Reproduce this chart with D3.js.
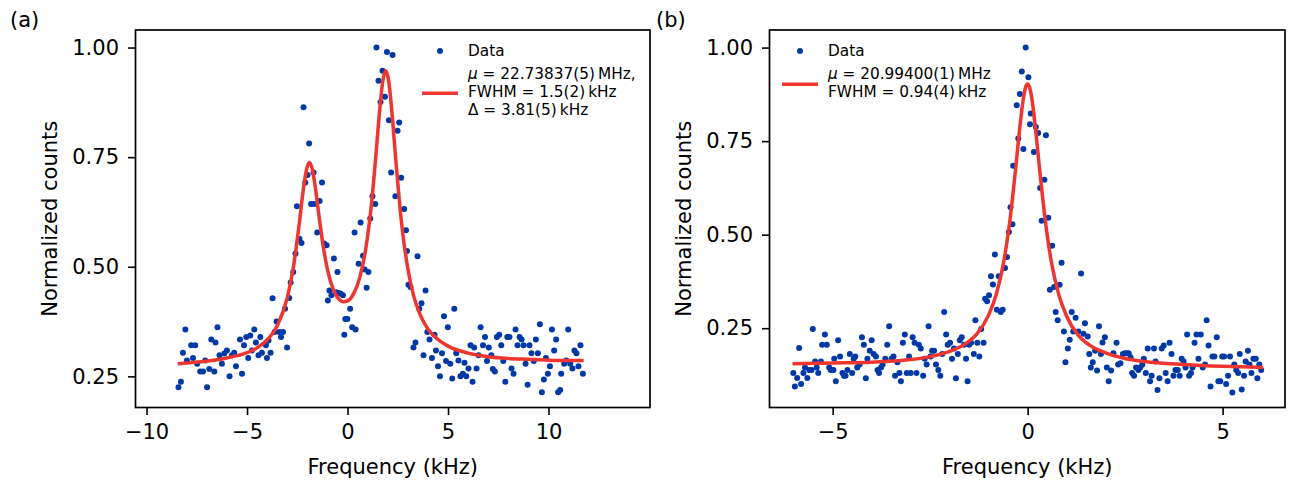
<!DOCTYPE html>
<html>
<head>
<meta charset="utf-8">
<script src="https://cdnjs.cloudflare.com/ajax/libs/d3/7.8.5/d3.min.js"></script>
<style>
  body { margin: 0; background: #fff; }
  svg { font-family: "DejaVu Sans", sans-serif; }
</style>
</head>
<body>
<script>
// ---- panel (a): double resonance ----
const aFreq = [-8.41,-8.29,-8.19,-8.07,-7.99,-7.78,-7.69,-7.58,-7.48,-7.33,-7.19,-7.08,-6.99,-6.88,-6.78,-6.63,-6.57,-6.47,-6.37,-6.25,-6.13,-6.00,-5.87,-5.75,-5.64,-5.55,-5.35,-5.25,-5.15,-5.04,-4.94,-4.84,-4.76,-4.64,-4.56,-4.43,-4.34,-4.26,-4.06,-4.01,-3.93,-3.83,-3.73,-3.63,-3.53,-3.40,-3.31,-3.21,-3.11,-3.01,-2.90,-2.83,-2.70,-2.59,-2.52,-2.39,-2.29,-2.19,-2.10,-1.99,-1.91,-1.81,-1.69,-1.66,-1.51,-1.39,-1.27,-1.16,-1.04,-0.98,-0.90,-0.80,-0.68,-0.56,-0.50,-0.45,-0.35,-0.23,-0.16,-0.11,-0.01,0.13,0.23,0.35,0.40,0.55,0.65,0.77,0.85,0.95,1.04,1.13,1.24,1.38,1.44,1.54,1.64,1.74,1.86,1.96,2.06,2.17,2.24,2.38,2.49,2.57,2.67,2.82,2.91,2.96,3.03,3.13,3.28,3.38,3.48,3.57,3.68,3.78,3.88,3.97,4.08,4.20,4.33,4.40,4.50,4.60,4.70,4.80,4.90,4.99,5.11,5.21,5.31,5.41,5.52,5.62,5.74,5.82,5.91,6.02,6.12,6.22,6.30,6.42,6.52,6.62,6.74,6.84,6.94,7.03,7.15,7.23,7.33,7.43,7.55,7.65,7.75,7.85,7.95,8.06,8.16,8.26,8.36,8.46,8.56,8.66,8.76,8.86,8.96,9.05,9.15,9.27,9.37,9.47,9.57,9.67,9.77,9.87,9.97,10.07,10.17,10.28,10.38,10.48,10.58,10.63,10.78,10.88,10.98,11.08,11.19,11.29,11.39,11.49,11.59,11.71];
const aCounts = [0.225,0.238,0.304,0.357,0.286,0.321,0.292,0.321,0.279,0.261,0.261,0.286,0.225,0.267,0.334,0.261,0.327,0.362,0.298,0.279,0.302,0.309,0.250,0.298,0.304,0.273,0.334,0.256,0.321,0.340,0.292,0.343,0.309,0.357,0.327,0.298,0.340,0.304,0.321,0.292,0.332,0.304,0.428,0.351,0.375,0.351,0.340,0.351,0.404,0.316,0.429,0.464,0.488,0.530,0.638,0.564,0.554,0.864,0.692,0.709,0.781,0.643,0.715,0.643,0.578,0.650,0.692,0.553,0.549,0.423,0.446,0.435,0.519,0.442,0.488,0.440,0.439,0.435,0.345,0.381,0.381,0.404,0.362,0.578,0.357,0.507,0.601,0.525,0.494,0.452,0.488,0.610,0.661,0.643,1.000,0.924,0.876,0.947,0.888,0.990,0.834,0.715,0.983,0.661,0.810,0.829,0.703,0.632,0.583,0.536,0.459,0.454,0.316,0.327,0.524,0.404,0.417,0.298,0.446,0.351,0.334,0.292,0.345,0.309,0.273,0.250,0.303,0.387,0.285,0.362,0.279,0.245,0.404,0.303,0.286,0.250,0.256,0.281,0.250,0.268,0.321,0.238,0.316,0.268,0.298,0.362,0.321,0.340,0.285,0.316,0.298,0.267,0.261,0.340,0.345,0.321,0.285,0.238,0.340,0.340,0.268,0.256,0.357,0.321,0.340,0.334,0.321,0.279,0.231,0.321,0.303,0.285,0.334,0.303,0.369,0.214,0.243,0.292,0.256,0.273,0.357,0.309,0.334,0.214,0.219,0.256,0.279,0.286,0.357,0.279,0.268,0.309,0.303,0.273,0.321,0.256];
const aFitFreq = [-8.45,-7,-6,-5,-4.5,-4,-3.5,-3,-2.7,-2.4,-2.2,-2.05,-1.9,-1.75,-1.6,-1.4,-1.2,-1,-0.7,-0.4,-0.2,0,0.3,0.6,0.9,1.2,1.4,1.6,1.75,1.9,2.05,2.2,2.4,2.6,2.8,3,3.3,3.6,4,4.5,5,6,7,8,9,10,11.75];
const aFitCounts = [0.279,0.285,0.292,0.304,0.315,0.333,0.365,0.429,0.497,0.599,0.676,0.720,0.738,0.722,0.680,0.609,0.544,0.494,0.447,0.425,0.420,0.422,0.438,0.474,0.539,0.647,0.748,0.857,0.922,0.947,0.923,0.857,0.745,0.640,0.557,0.496,0.432,0.392,0.358,0.334,0.319,0.303,0.295,0.291,0.289,0.287,0.286];
const aLegend = ["= 22.73837(5)\u2009MHz,", "FWHM = 1.5(2)\u2009kHz", "\u0394 = 3.81(5)\u2009kHz"];

// ---- panel (b): single resonance ----
const bFreq = [-6.01,-5.97,-5.91,-5.86,-5.81,-5.75,-5.71,-5.65,-5.60,-5.54,-5.51,-5.45,-5.41,-5.37,-5.30,-5.27,-5.20,-5.15,-5.09,-5.05,-4.98,-4.96,-4.92,-4.86,-4.81,-4.75,-4.71,-4.67,-4.62,-4.56,-4.50,-4.46,-4.42,-4.37,-4.31,-4.25,-4.20,-4.15,-4.11,-4.05,-4.00,-3.95,-3.89,-3.85,-3.81,-3.76,-3.72,-3.65,-3.60,-3.55,-3.49,-3.44,-3.40,-3.34,-3.29,-3.25,-3.20,-3.15,-3.10,-3.04,-3.00,-2.95,-2.90,-2.85,-2.79,-2.74,-2.68,-2.64,-2.59,-2.54,-2.49,-2.45,-2.40,-2.35,-2.29,-2.24,-2.19,-2.14,-2.09,-2.05,-1.99,-1.94,-1.89,-1.84,-1.79,-1.74,-1.69,-1.63,-1.58,-1.54,-1.50,-1.45,-1.38,-1.34,-1.29,-1.24,-1.19,-1.13,-1.09,-1.04,-0.99,-0.94,-0.89,-0.84,-0.79,-0.74,-0.69,-0.64,-0.58,-0.53,-0.48,-0.44,-0.39,-0.37,-0.28,-0.24,-0.20,-0.15,-0.11,-0.05,0.02,0.06,0.08,0.16,0.21,0.27,0.32,0.36,0.43,0.47,0.53,0.57,0.63,0.68,0.72,0.77,0.82,0.87,0.93,0.97,1.03,1.08,1.13,1.17,1.23,1.30,1.37,1.43,1.47,1.54,1.58,1.62,1.67,1.73,1.78,1.83,1.88,1.92,1.98,2.03,2.08,2.14,2.20,2.28,2.32,2.38,2.44,2.49,2.54,2.59,2.64,2.68,2.73,2.78,2.84,2.89,2.94,2.98,3.03,3.08,3.14,3.18,3.24,3.28,3.33,3.38,3.44,3.49,3.54,3.59,3.64,3.69,3.74,3.79,3.85,3.90,3.95,4.00,4.05,4.09,4.14,4.19,4.23,4.28,4.33,4.38,4.44,4.49,4.55,4.59,4.64,4.69,4.74,4.79,4.85,4.89,4.94,4.99,5.04,5.09,5.14,5.19,5.25,5.30,5.35,5.40,5.44,5.49,5.55,5.59,5.65,5.69,5.74,5.79,5.85,5.89,5.94,5.99];
const bCounts = [0.130,0.094,0.117,0.197,0.101,0.130,0.145,0.117,0.138,0.138,0.248,0.161,0.145,0.130,0.161,0.206,0.233,0.206,0.145,0.138,0.138,0.168,0.108,0.218,0.174,0.130,0.123,0.123,0.138,0.181,0.130,0.168,0.174,0.145,0.153,0.226,0.206,0.116,0.168,0.190,0.218,0.181,0.174,0.138,0.130,0.145,0.153,0.168,0.206,0.255,0.168,0.174,0.123,0.159,0.130,0.108,0.211,0.233,0.130,0.174,0.130,0.226,0.211,0.130,0.206,0.196,0.123,0.168,0.153,0.255,0.174,0.190,0.190,0.153,0.138,0.123,0.181,0.293,0.233,0.206,0.211,0.168,0.196,0.116,0.181,0.218,0.226,0.206,0.168,0.108,0.206,0.211,0.181,0.271,0.211,0.174,0.248,0.211,0.329,0.322,0.338,0.389,0.367,0.447,0.299,0.389,0.293,0.299,0.411,0.440,0.507,0.573,0.528,0.684,0.846,0.757,0.876,0.936,0.729,1.000,0.921,0.795,0.824,0.721,0.788,0.772,0.625,0.537,0.647,0.766,0.545,0.353,0.470,0.360,0.293,0.271,0.366,0.425,0.241,0.159,0.196,0.219,0.293,0.241,0.278,0.241,0.396,0.235,0.263,0.228,0.181,0.145,0.159,0.190,0.137,0.255,0.181,0.212,0.226,0.145,0.108,0.137,0.183,0.211,0.153,0.156,0.181,0.183,0.183,0.183,0.172,0.130,0.123,0.145,0.138,0.145,0.153,0.168,0.130,0.196,0.108,0.123,0.196,0.161,0.085,0.116,0.196,0.204,0.130,0.108,0.211,0.181,0.123,0.138,0.138,0.123,0.168,0.161,0.145,0.233,0.123,0.130,0.145,0.211,0.233,0.168,0.233,0.145,0.153,0.271,0.204,0.094,0.174,0.174,0.226,0.108,0.108,0.174,0.174,0.101,0.123,0.174,0.078,0.153,0.138,0.130,0.181,0.086,0.123,0.161,0.190,0.153,0.130,0.168,0.168,0.116,0.153,0.138];
const bFitFreq = [-6.03,-5,-4,-3,-2.5,-2,-1.6,-1.3,-1,-0.8,-0.6,-0.45,-0.3,-0.2,-0.1,-0.05,0,0.05,0.1,0.2,0.3,0.45,0.6,0.8,1,1.3,1.6,2,2.5,3,4,5,6.04];
const bFitCounts = [0.155,0.157,0.159,0.166,0.174,0.188,0.208,0.235,0.285,0.342,0.435,0.542,0.684,0.787,0.870,0.895,0.903,0.894,0.869,0.785,0.682,0.540,0.432,0.339,0.282,0.231,0.204,0.184,0.169,0.161,0.153,0.148,0.145];
const bLegend = ["= 20.99400(1)\u2009MHz", "FWHM = 0.94(4)\u2009kHz"];

const aXTicks = [-10, -5, 0, 5, 10];
const bXTicks = [-5, 0, 5];
const yTicks = [0.25, 0.50, 0.75, 1.00];

const width = 1292, height = 480;
const dotColor = "#0039a6";
const fitColor = "#ee3530";
const fontSize = 21;

const svg = d3.select("body").append("svg")
  .attr("width", width)
  .attr("height", height);

function drawPanel(p) {
  const x = d3.scaleLinear().domain(p.xDomain).range([p.left, p.right]);
  const y = d3.scaleLinear().domain(p.yDomain).range([p.bottom, p.top]);
  const g = svg.append("g");

  // data points
  g.append("g").selectAll("circle")
    .data(d3.zip(p.freq, p.counts))
    .join("circle")
    .attr("cx", d => x(d[0]))
    .attr("cy", d => y(d[1]))
    .attr("r", 3)
    .attr("fill", dotColor);

  // fit
  const line = d3.line()
    .x(d => x(d[0]))
    .y(d => y(d[1]))
    .curve(d3.curveMonotoneX);
  g.append("path")
    .datum(d3.zip(p.fitFreq, p.fitCounts))
    .attr("d", line)
    .attr("fill", "none")
    .attr("stroke", fitColor)
    .attr("stroke-width", 3.5);

  // axes
  const xAxis = g.append("g")
    .attr("transform", `translate(0,${p.bottom})`)
    .call(d3.axisBottom(x).tickValues(p.xTicks).tickSize(7.5).tickPadding(9)
      .tickFormat(d3.format("d")));
  const yAxis = g.append("g")
    .attr("transform", `translate(${p.left},0)`)
    .call(d3.axisLeft(y).tickValues(yTicks).tickSize(7.5).tickPadding(9)
      .tickFormat(d3.format(".2f")));
  [xAxis, yAxis].forEach(a => {
    a.select(".domain").remove();
    a.attr("font-family", "DejaVu Sans").attr("font-size", fontSize);
    a.selectAll(".tick line").attr("stroke", "#000").attr("stroke-width", 1.6);
    a.selectAll(".tick text").attr("fill", "#000");
  });

  // frame
  g.append("rect")
    .attr("x", p.left).attr("y", p.top)
    .attr("width", p.right - p.left).attr("height", p.bottom - p.top)
    .attr("fill", "none").attr("stroke", "#000").attr("stroke-width", 1.7);

  // axis labels
  g.append("text")
    .attr("x", (p.left + p.right) / 2).attr("y", 474)
    .attr("text-anchor", "middle").attr("font-size", fontSize)
    .text("Frequency (kHz)");
  g.append("text")
    .attr("transform", `translate(${p.ylabelX},${(p.top + p.bottom) / 2}) rotate(-90)`)
    .attr("text-anchor", "middle").attr("font-size", fontSize)
    .text("Normalized counts");
  g.append("text")
    .attr("x", p.tagX).attr("y", 27).attr("font-size", fontSize)
    .text(p.tag);

  // legend (no frame)
  const L = p.legend;
  g.append("circle").attr("cx", L.markerX).attr("cy", L.dataY).attr("r", 3).attr("fill", dotColor);
  g.append("text").attr("x", L.textX).attr("y", L.dataY)
    .attr("dominant-baseline", "central").attr("font-size", 15.3).text("Data");
  g.append("line")
    .attr("x1", L.lineX1).attr("x2", L.lineX2).attr("y1", L.lineY).attr("y2", L.lineY)
    .attr("stroke", fitColor).attr("stroke-width", 3.5);
  p.fitText.forEach((t, i) => {
    const tx = g.append("text").attr("x", L.textX).attr("y", L.fitY0 + i * L.step)
      .attr("dominant-baseline", "central").attr("font-size", 15.3);
    if (i === 0) {
      tx.append("tspan").attr("font-style", "italic").text("\u03bc");
      tx.append("tspan").text(" " + t);
    } else {
      tx.text(t);
    }
  });
}

drawPanel({
  tag: "(a)", tagX: 10,
  left: 135.5, right: 650, top: 30, bottom: 407.5,
  xDomain: [-10.55, 15.05], yDomain: [0.179, 1.040],
  freq: aFreq, counts: aCounts, fitFreq: aFitFreq, fitCounts: aFitCounts,
  xTicks: aXTicks, ylabelX: 57, fitText: aLegend,
  legend: { markerX: 440, textX: 468, dataY: 51, lineX1: 422, lineX2: 458, lineY: 93.3, fitY0: 74.3, step: 17.9 }
});

drawPanel({
  tag: "(b)", tagX: 656,
  left: 769.5, right: 1285, top: 30, bottom: 407.5,
  xDomain: [-6.62, 6.60], yDomain: [0.038, 1.047],
  freq: bFreq, counts: bCounts, fitFreq: bFitFreq, fitCounts: bFitCounts,
  xTicks: bXTicks, ylabelX: 691, fitText: bLegend,
  legend: { markerX: 800, textX: 828, dataY: 51, lineX1: 782, lineX2: 818, lineY: 84.3, fitY0: 74.3, step: 17.6 }
});
</script>
</body>
</html>
